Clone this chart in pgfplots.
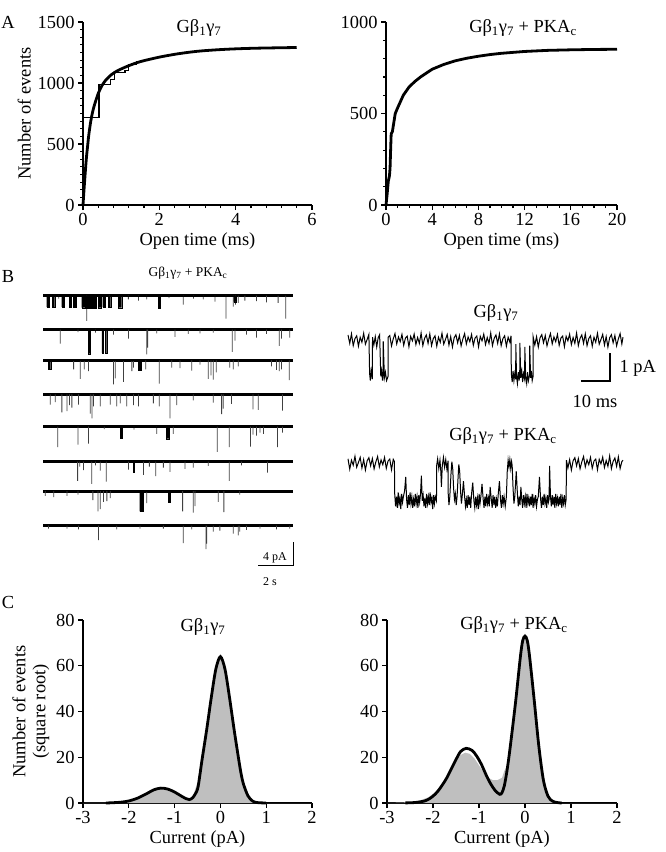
\documentclass[border=0pt]{standalone}
\usepackage{fontspec}
\setmainfont{Liberation Serif}
\usepackage{pgfplots}
\pgfplotsset{compat=1.18}

\newcommand{\gb}{Gβ\textsubscript{1}γ\textsubscript{7}}
\newcommand{\pka}{PKA\textsubscript{c}}
\newcommand{\bigf}{\fontsize{18.5}{20}\selectfont}

\pgfplotsset{
  panel/.style={scale only axis, anchor=south west, axis lines=left,
    axis line style={-, line width=1.6bp}, tick align=outside,
    major tick length=5bp, minor tick length=3bp,
    tick style={line width=1.2bp, black}, enlargelimits=false, clip=false,
    tick label style={font=\bigf}, label style={font=\bigf},
    /pgf/number format/assume math mode=true,
    /pgf/number format/1000 sep={}},
  trace/.style={scale only axis, anchor=south west, hide axis, width=250bp, height=42bp,
    xmin=0, xmax=14.29, ymin=-6, ymax=1, clip=false},
  single/.style={scale only axis, anchor=south west, hide axis, width=275bp, height=70bp,
    xmin=0, xmax=94.8, ymin=-2, ymax=0.5, clip=false},
  spk/.style={ybar, bar shift=0pt, bar width=0.8bp, fill=black!75, draw=none},
  burst/.style={fill=black, draw=black, line width=0.3bp},
  base/.style={line width=3bp},
}

\begin{document}
\begin{tikzpicture}
\path[use as bounding box] (0,0) rectangle (666bp,-852bp);

% ---------- A, left
\begin{axis}[panel, at={(83bp,-205bp)}, width=229bp, height=183bp,
  xmin=0, xmax=6, ymin=0, ymax=1500, xtick={0,2,4,6}, ytick={0,500,1000,1500},
  minor x tick num=4, minor y tick num=7,
  xlabel={Open time (ms)}, ylabel={Number of events}]
\addplot[line width=1.1bp] coordinates {
  (0,715)(0.42,715)(0.42,990)(0.72,990)(0.72,1030)(0.82,1030)(0.82,1085)
  (1.1,1085)(1.1,1100)(1.2,1100)(1.2,1155)(1.4,1155)(1.4,1175)(1.6,1175)(1.6,1195)(1.8,1195)};
\addplot[line width=2.8bp, smooth] coordinates {
  (0,0)(0.03,140)(0.06,270)(0.09,390)(0.12,480)(0.15,570)(0.2,680)(0.25,760)(0.3,820)
  (0.4,915)(0.5,980)(0.6,1025)(0.75,1070)(0.9,1100)(1.0,1115)(1.2,1142)(1.5,1175)
  (2.0,1212)(2.5,1240)(3.0,1260)(3.5,1272)(4.0,1280)(4.5,1285)(5.0,1288)(5.6,1291)};
\end{axis}

% ---------- A, right
\begin{axis}[panel, at={(386bp,-205bp)}, width=231bp, height=183bp,
  xmin=0, xmax=20, ymin=0, ymax=1000, xtick={0,4,8,12,16,20}, ytick={0,500,1000},
  minor x tick num=3, minor y tick num=4,
  xlabel={Open time (ms)}]
\addplot[line width=2.8bp] coordinates {
  (0,0)(0.1,60)(0.2,130)(0.3,160)(0.35,200)(0.4,300)(0.45,390)(0.55,400)(0.7,460)
  (0.8,500)(1.0,530)(1.25,565)(1.5,600)(2,645)(2.5,675)(3,700)(4,742)(5,768)(6,788)
  (7,802)(8,813)(9,822)(10,829)(12,839)(14,845)(16,848)(18,850)(20,851)};
\end{axis}

% ---------- B, left: eight rows
\begin{axis}[trace, at={(43bp,-331.7bp)}]
\addplot[base] coordinates {(0,0)(14.29,0)};
\addplot[spk] coordinates {(0.9,-0.5)(2.5,-4.2)(3.8,-0.4)(4.88,-0.6)(5.46,-0.8)(5.93,-0.6)(7.2,-0.4)
  (8.02,-1.5)(8.6,-0.5)(9.16,-0.6)(9.83,-1.0)(10.46,-3.8)(10.87,-1.8)(11.0,-1.5)(11.16,-1.2)
  (11.54,-0.8)(12.2,-0.9)(12.78,-1.1)(13.44,-1.2)(13.88,-3.8)};
\addplot[burst] coordinates {(0.21,0)(0.21,-1.9)(0.36,-1.9)(0.36,0)(0.55,0)(0.55,-1.9)(0.67,-1.9)(0.67,0)
  (1.07,0)(1.07,-1.9)(1.2,-1.9)(1.2,0)(1.5,0)(1.5,-1.9)(1.62,-1.9)(1.62,0)
  (1.73,0)(1.73,-1.9)(1.89,-1.9)(1.89,0)(2.21,0)(2.21,-2.0)(2.4,-2.0)(2.4,0)
  (2.46,0)(2.46,-2.1)(2.69,-2.1)(2.69,0)(2.78,0)(2.78,-2.1)(3.03,-2.1)(3.03,0)
  (3.16,0)(3.16,-2.0)(3.31,-2.0)(3.31,0)(3.41,0)(3.41,-1.9)(3.54,-1.9)(3.54,0)
  (3.73,0)(3.73,-1.9)(3.87,-1.9)(3.87,0)(4.3,0)(4.3,-2.0)(4.5,-2.0)(4.5,0)
  (6.59,0)(6.59,-2.1)(6.72,-2.1)(6.72,0)(10.9,0)(10.9,-1.0)(11.05,-1.0)(11.05,0)};
\end{axis}

\begin{axis}[trace, at={(43bp,-365.7bp)}]
\addplot[base] coordinates {(0,0)(14.29,0)};
\addplot[spk] coordinates {(0.99,-2.3)(2.0,-0.4)(3.0,-0.5)(4.03,-0.8)(4.89,-1.5)(5.93,-4.1)(5.98,-3.0)
  (6.5,-0.6)(7.55,-1.2)(8.3,-0.7)(8.97,-0.6)(9.73,-0.5)(10.82,-3.7)(10.97,-1.8)(11.63,-0.8)
  (12.2,-1.3)(12.78,-0.7)(13.5,-2.7)(13.63,-1.5)(14.1,-1.3)};
\addplot[burst] coordinates {(2.6,0)(2.6,-4.0)(2.68,-4.0)(2.68,0)(3.37,0)(3.37,-3.9)(3.46,-3.9)(3.46,0)
  (3.55,0)(3.55,-3.9)(3.64,-3.9)(3.64,0)};
\end{axis}

\begin{axis}[trace, at={(43bp,-396.3bp)}]
\addplot[base] coordinates {(0,0)(14.29,0)};
\addplot[spk] coordinates {(1.75,-1.5)(2.13,-3.1)(2.36,-1.5)(2.6,-1.8)(4.03,-4.0)(4.13,-3.0)(4.6,-3.6)
  (5.08,-1.8)(5.17,-1.2)(5.87,-1.5)(6.65,-3.9)(7.36,-1.2)(7.83,-1.3)(8.5,-1.7)(8.97,-0.7)
  (9.45,-3.1)(9.6,-2.5)(9.73,-3.2)(9.9,-2.0)(10.68,-1.2)(10.87,-1.5)(11.16,-1.0)(13.06,-1.0)
  (13.35,-1.6)(13.5,-1.8)(13.63,-1.5)(14.07,-3.3)};
\addplot[burst] coordinates {(0.29,0)(0.29,-1.5)(0.44,-1.5)(0.44,0)(5.46,0)(5.46,-1.7)(5.6,-1.7)(5.6,0)};
\end{axis}

\begin{axis}[trace, at={(43bp,-430.3bp)}]
\addplot[base] coordinates {(0,0)(14.29,0)};
\addplot[spk] coordinates {(0.42,-1.7)(0.7,-1.3)(1.08,-3.0)(1.37,-2.8)(1.52,-1.8)(1.65,-2.2)(2.03,-1.7)
  (2.7,-3.2)(2.8,-4.0)(2.89,-2.0)(3.27,-2.0)(3.84,-1.7)(4.22,-2.0)(4.41,-1.5)(4.79,-2.0)
  (5.17,-1.8)(5.46,-2.0)(6.31,-1.5)(6.65,-2.0)(7.26,-4.0)(7.64,-1.8)(8.59,-1.0)(9.73,-1.4)
  (10.21,-3.3)(10.3,-2.4)(10.78,-1.6)(12.0,-2.5)(12.3,-2.6)(13.69,-2.7)};
\end{axis}

\begin{axis}[trace, at={(43bp,-462.7bp)}]
\addplot[base] coordinates {(0,0)(14.29,0)};
\addplot[spk] coordinates {(0.84,-3.4)(2.0,-3.0)(2.6,-2.8)(3.5,-0.4)(5.2,-0.5)(6.5,-1.2)(7.45,-1.2)
  (9.96,-4.2)(10.65,-3.4)(11.86,-3.3)(12.0,-1.3)(12.2,-1.5)(12.4,-1.0)(12.6,-1.2)(13.4,-3.4)(13.69,-1.0)};
\addplot[burst] coordinates {(4.41,0)(4.41,-1.9)(4.54,-1.9)(4.54,0)(7.05,0)(7.05,-2.0)(7.2,-2.0)(7.2,0)};
\end{axis}

\begin{axis}[trace, at={(43bp,-497.7bp)}]
\addplot[base] coordinates {(0,0)(14.29,0)};
\addplot[spk] coordinates {(1.98,-3.2)(2.1,-0.8)(2.32,-1.4)(2.79,-3.7)(3.0,-0.6)(3.27,-1.5)(3.61,-3.3)
  (4.89,-1.3)(5.74,-2.2)(6.08,-0.8)(6.44,-2.4)(6.88,-1.0)(7.26,-1.7)(8.12,-1.2)(8.59,-1.0)
  (9.45,-0.7)(10.65,-3.2)(11.35,-0.6)(12.83,-1.8)};
\addplot[burst] coordinates {(5.13,0)(5.13,-1.8)(5.21,-1.8)(5.21,0)};
\end{axis}

\begin{axis}[trace, at={(43bp,-527bp)}]
\addplot[base] coordinates {(0,0)(14.29,0)};
\addplot[spk] coordinates {(0.13,-0.8)(0.61,-1.0)(1.37,-0.8)(2.0,-0.6)(2.85,-1.5)(3.14,-3.4)(3.27,-3.0)
  (3.46,-1.8)(3.65,-1.7)(3.84,-1.2)(5.93,-2.0)(7.98,-3.4)(8.59,-3.6)(8.69,-2.5)(10.02,-1.8)
  (10.34,-3.5)(11.25,-0.6)};
\addplot[burst] coordinates {(5.53,0)(5.53,-3.4)(5.72,-3.4)(5.72,0)(7.15,0)(7.15,-1.8)(7.28,-1.8)(7.28,0)};
\end{axis}

\begin{axis}[trace, at={(43bp,-561.7bp)}]
\addplot[base] coordinates {(0,0)(14.29,0)};
\addplot[spk] coordinates {(0.32,-0.5)(1.37,-0.5)(2.03,-0.6)(3.17,-2.4)(4.22,-0.6)(5.55,-0.5)(6.88,-0.5)
  (8.02,-2.9)(8.5,-0.6)(9.32,-3.9)(9.36,-3.0)(9.73,-1.0)(10.11,-0.8)(10.87,-1.3)(11.16,-1.6)
  (11.25,-1.0)(11.63,-0.7)(12.4,-0.5)(13.35,-0.6)(14.1,-0.5)};
% scale bar: 2 s, 4 pA
\addplot[line width=1bp] coordinates {(12.29,-6.7)(14.29,-6.7)(14.29,-2.7)};
\end{axis}

% ---------- B, right: two expanded sweeps
\begin{axis}[single, at={(348bp,-396bp)}]
\addplot[line width=1bp] coordinates {
(0,0.18)(0.6,-0.12)(1.2,0.22)(1.8,-0.2)(2.4,0.05)(3,0.15)(3.6,-0.22)(4.2,0.1)(4.8,-0.08)(5.4,0.24)
(6,-0.15)(6.6,0.02)(7.2,0.2)
(7.45,-1.2)(7.7,-1.45)(8.0,-1.1)(8.4,-1.4)(8.45,0.1)(8.9,-0.18)(9.4,0.12)(9.9,-0.25)(10.4,0.08)(10.9,0.19)
(11.3,-1.3)(11.6,-1.1)(11.9,-1.45)(12.1,-1.25)(12.15,-0.05)(12.55,-1.35)(12.9,-1.15)(13.3,-1.45)
(13.8,-1.3)(13.85,0.1)
(14.4,0.16)(15,-0.21)(15.6,0.04)(16.2,0.23)(16.8,-0.14)(17.4,0.11)(18,-0.06)(18.6,0.2)(19.2,-0.19)
(19.8,0.07)(20.4,0.14)(21,-0.24)(21.6,0.13)(22.2,-0.03)(22.8,0.21)(23.4,-0.16)(24,0.09)(24.6,-0.12)
(25.2,0.25)(25.8,-0.2)(26.4,0.06)(27,0.18)(27.6,-0.12)(28.2,0.22)(28.8,-0.2)(29.4,0.05)(30,0.15)
(30.6,-0.22)(31.2,0.1)(31.8,-0.08)(32.4,0.24)(33,-0.15)(33.6,0.02)(34.2,0.2)(34.8,-0.18)(35.4,0.12)
(36,-0.25)(36.6,0.08)(37.2,0.19)(37.8,-0.1)(38.4,0.16)(39,-0.21)(39.6,0.04)(40.2,0.23)(40.8,-0.14)
(41.4,0.11)(42,-0.06)(42.6,0.2)(43.2,-0.19)(43.8,0.07)(44.4,0.14)(45,-0.24)(45.6,0.13)(46.2,-0.03)
(46.8,0.21)(47.4,-0.16)(48,0.09)(48.6,-0.12)(49.2,0.25)(49.8,-0.2)(50.4,0.06)(51,0.18)(51.6,-0.12)
(52.2,0.22)(52.8,-0.2)(53.4,0.05)(54,0.15)(54.6,-0.22)(55.2,0.1)(55.8,-0.08)(56.2,0.15)
(56.3,-1.2)(56.6,-1.5)(56.9,-1.1)(57.2,-1.45)(57.5,-1.2)(57.8,-1.4)(57.85,-0.15)(58.1,-1.3)(58.4,-1.55)
(58.7,-1.15)(59.0,-1.45)(59.2,-1.2)(59.25,-0.1)(59.55,-1.35)(59.9,-1.1)(60.2,-1.5)(60.5,-1.2)(60.9,-1.4)
(60.95,-0.25)(61.25,-1.3)(61.6,-1.55)(61.9,-1.15)(62.2,-1.45)(62.6,-1.25)(62.65,-0.2)(62.95,-1.35)
(63.2,-1.1)(63.5,-1.45)(63.8,-1.3)(63.85,0.1)
(64.4,-0.18)(65,0.12)(65.6,-0.25)(66.2,0.08)(66.8,0.19)(67.4,-0.1)(68,0.16)(68.6,-0.21)(69.2,0.04)
(69.8,0.23)(70.4,-0.14)(71,0.11)(71.6,-0.06)(72.2,0.2)(72.8,-0.19)(73.4,0.07)(74,0.14)(74.6,-0.24)
(75.2,0.13)(75.8,-0.03)(76.4,0.21)(77,-0.16)(77.6,0.09)(78.2,-0.12)(78.8,0.25)(79.4,-0.2)(80,0.06)
(80.6,0.18)(81.2,-0.12)(81.8,0.22)(82.4,-0.2)(83,0.05)(83.6,0.15)(84.2,-0.22)(84.8,0.1)(85.4,-0.08)
(86,0.24)(86.6,-0.15)(87.2,0.02)(87.8,0.2)(88.4,-0.18)(89,0.12)(89.6,-0.25)(90.2,0.08)(90.8,0.19)
(91.4,-0.1)(92,0.16)(92.6,-0.21)(93.2,0.04)(93.8,0.23)(94.4,-0.14)(94.8,0.1)};
% scale bar: 10 ms, 1 pA
\addplot[line width=2.5bp] coordinates {(80.3,-1.46)(90.3,-1.46)(90.3,-0.46)};
\end{axis}

\begin{axis}[single, at={(348bp,-519bp)}]
\addplot[line width=1bp] coordinates {
(0,0.15)(0.6,-0.22)(1.2,0.1)(1.8,-0.08)(2.4,0.24)(3,-0.15)(3.6,0.02)(4.2,0.2)(4.8,-0.18)(5.4,0.12)
(6,-0.25)(6.6,0.08)(7.2,0.19)(7.8,-0.1)(8.4,0.16)(9,-0.21)(9.6,0.04)(10.2,0.23)(10.8,-0.14)(11.4,0.11)
(12,-0.06)(12.6,0.2)(13.2,-0.19)(13.8,0.07)(14.4,0.14)(15,-0.24)(15.6,0.13)(16,0.05)
(16.1,-1.1)(16.4,-1.55)(16.7,-1.2)(17,-1.6)(17.3,-1.05)(17.6,-1.45)(17.9,-1.25)(18.2,-1.65)(18.5,-1.1)
(18.8,-1.4)(19.1,-1.2)(19.5,-1.0)(19.9,-0.5)(20.2,-1.3)(20.5,-1.6)(20.8,-1.15)(21.1,-1.5)(21.4,-1.05)
(21.7,-1.45)(22,-1.2)(22.3,-1.6)(22.6,-1.3)(22.9,-1.55)(23.2,-1.1)(23.5,-1.45)(23.8,-1.2)(24.1,-1.6)
(24.4,-1.15)(24.7,-1.4)(25,-1.1)(25.3,-0.45)(25.6,-1.35)(25.9,-1.15)(26.2,-1.55)(26.5,-1.25)(26.8,-1.6)
(27.1,-1.1)(27.4,-1.45)(27.7,-1.2)(28,-1.5)(28.3,-1.05)(28.6,-1.4)(28.9,-1.25)(29.2,-1.65)(29.5,-1.15)
(29.8,-1.45)(30.1,-1.2)(30.5,-1.35)
(30.55,-0.1)(30.9,0.15)(31.3,-0.2)(31.7,0.1)(32.0,-0.3)(32.2,-0.85)(32.5,-0.1)(32.9,0.2)(33.3,-0.15)
(33.7,0.12)(34.1,-0.22)(34.5,0.08)
(34.55,-1.1)(34.8,-1.5)(35.1,-1.2)(35.5,-0.4)(35.8,0.05)(36.1,-0.2)(36.4,-0.9)(36.7,-1.3)(37,-1.1)
(37.3,-1.5)(37.6,-1.2)(37.9,-0.6)(38.2,-0.05)(38.5,-0.3)(38.8,-1.0)(39.1,-1.45)(39.4,-1.15)(39.8,-0.65)
(40.2,-1.2)(40.5,-1.55)
(40.8,-1.3)(41.1,-1.6)(41.4,-1.15)(41.7,-1.5)(42,-1.2)(42.3,-1.6)(42.6,-1.1)(43,-0.7)(43.4,-1.35)
(43.7,-1.6)(44,-1.2)(44.3,-1.5)(44.6,-1.25)(44.9,-1.65)(45.2,-1.1)(45.5,-1.45)(45.8,-1.2)(46.2,-0.75)
(46.6,-1.3)(46.9,-1.6)(47.2,-1.2)(47.5,-1.55)(47.8,-1.1)(48.1,-1.45)(48.4,-1.25)(48.7,-1.55)(49,-0.85)
(49.4,-1.3)(49.7,-1.6)(50,-1.15)(50.3,-1.5)(50.6,-1.2)(50.9,-1.6)(51.2,-1.3)(51.5,-1.55)(51.8,-1.1)
(52.2,-0.65)(52.6,-1.35)(52.9,-1.6)(53.2,-1.15)(53.5,-1.45)(53.8,-1.2)(54.2,-1.55)(54.6,-1.2)
(54.9,-0.3)(55.2,0.1)(55.5,-0.15)(55.8,0.12)(56.1,-0.2)(56.4,0.05)(56.6,-0.1)(56.9,-0.9)(57.2,-1.45)
(57.5,-1.2)(58,-0.3)(58.4,-1.1)(58.7,-1.55)(59,-1.2)(59.3,-1.5)(59.6,-0.85)(59.9,-1.3)(60.2,-1.6)
(60.5,-1.15)(60.8,-1.45)(61.1,-1.2)(61.4,-1.6)(61.7,-1.1)(62,-1.45)(62.3,-1.25)(62.6,-1.55)
(62.9,-1.2)(63.2,-1.5)(63.5,-1.1)(63.8,-1.6)(64.1,-1.25)(64.4,-1.45)(64.7,-1.15)(65,-1.55)(65.3,-1.3)
(65.6,-1.2)(66,-0.5)(66.4,-1.3)(66.7,-1.6)(67,-1.2)(67.3,-1.5)(67.6,-1.1)(67.9,-1.45)(68.2,-1.25)
(68.5,-1.6)(68.8,-1.15)(69.1,-1.4)(69.3,-1.3)(69.5,-0.1)(69.8,-1.2)(70.1,-1.55)(70.4,-1.15)(70.7,-1.5)
(71,-1.2)(71.3,-1.6)(71.6,-1.1)(71.9,-1.45)(72.2,-1.25)(72.5,-1.55)(72.8,-1.2)(73.1,-1.5)(73.4,-1.1)
(73.7,-1.6)(74,-1.25)(74.3,-1.45)(74.6,-1.15)(74.9,-1.5)(75.2,-1.3)
(75.3,0.1)(75.8,-0.18)(76.4,0.12)(77,-0.25)(77.6,0.08)(78.2,0.19)(78.8,-0.1)(79.4,0.16)(80,-0.21)
(80.6,0.04)(81.2,0.23)(81.8,-0.14)(82.4,0.11)(83,-0.06)(83.6,0.2)(84.2,-0.19)(84.8,0.07)(85.4,0.14)
(86,-0.24)(86.6,0.13)(87.2,-0.03)(87.8,0.21)(88.4,-0.16)(89,0.09)(89.6,-0.12)(90.2,0.25)(90.8,-0.2)
(91.4,0.06)(92,0.18)(92.6,-0.12)(93.2,0.22)(93.8,-0.2)(94.4,0.05)(94.8,0.1)};
\end{axis}

% ---------- C, left
\begin{axis}[panel, at={(83bp,-803bp)}, width=229bp, height=183bp,
  xmin=-3, xmax=2, ymin=0, ymax=80, xtick={-3,...,2}, ytick={0,20,40,60,80},
  xlabel={Current (pA)}, ylabel={Number of events\\(square root)}, ylabel style={align=center}]
\addplot[draw=none, fill=gray!50] coordinates {
  (-3,0)(-2.4,0.1)(-2.2,0.4)(-2.0,1.0)(-1.8,2.5)(-1.6,4.6)(-1.45,6.2)(-1.3,7.0)(-1.15,6.5)(-1.0,5.0)
  (-0.85,3.2)(-0.75,2.2)(-0.68,2.0)(-0.6,3)(-0.5,9)(-0.45,14)(-0.4,20)(-0.3,33)(-0.2,47)(-0.1,59)
  (0,64)(0.1,59)(0.2,47)(0.3,33)(0.4,20)(0.45,14)(0.5,9)(0.6,3.5)(0.7,1)(0.8,0.2)(1,0)(2,0)} \closedcycle;
\addplot[line width=2.8bp, smooth] coordinates {
  (-2.5,0)(-2.2,0.3)(-2.0,0.9)(-1.8,2.2)(-1.6,4.2)(-1.45,5.8)(-1.3,6.5)(-1.15,6.1)(-1.0,4.8)
  (-0.85,3.0)(-0.75,1.9)(-0.68,1.5)(-0.6,2.4)(-0.5,6)(-0.45,12)(-0.4,19)(-0.3,32)(-0.2,46)
  (-0.1,58.5)(0,64)(0.1,58.5)(0.2,46)(0.3,32)(0.4,19)(0.45,13)(0.5,8.5)(0.6,3.2)(0.7,0.9)(0.8,0.2)(1.0,0)};
\end{axis}

% ---------- C, right
\begin{axis}[panel, at={(387bp,-803bp)}, width=230bp, height=183bp,
  xmin=-3, xmax=2, ymin=0, ymax=80, xtick={-3,...,2}, ytick={0,20,40,60,80},
  xlabel={Current (pA)}]
\addplot[draw=none, fill=gray!50] coordinates {
  (-3,0)(-2.5,0.3)(-2.3,1)(-2.1,2.5)(-2.0,4)(-1.9,6)(-1.8,8.5)(-1.7,11.5)(-1.6,15)(-1.5,18.5)
  (-1.4,21)(-1.3,22)(-1.2,21.5)(-1.1,19.5)(-1.0,16.5)(-0.9,13.5)(-0.8,11)(-0.7,10)(-0.6,10)
  (-0.5,11)(-0.45,14)(-0.4,16)(-0.35,20)(-0.3,28)(-0.2,45)(-0.1,64)(-0.05,71)(0,73)(0.05,71)
  (0.1,64)(0.2,45)(0.3,25)(0.4,10)(0.5,3)(0.6,0.8)(0.7,0.2)(0.8,0)(2,0)} \closedcycle;
\addplot[line width=2.8bp, smooth] coordinates {
  (-2.6,0.05)(-2.4,0.2)(-2.2,0.8)(-2.1,1.6)(-2.0,3)(-1.9,5)(-1.8,7.8)(-1.7,11)(-1.6,15)(-1.5,19)
  (-1.4,22.5)(-1.28,23.9)(-1.15,23)(-1.05,20.5)(-0.95,17)(-0.85,12.5)(-0.75,8.5)(-0.65,5.5)
  (-0.55,3.8)(-0.5,4.5)(-0.45,7.5)(-0.4,13)(-0.35,20)(-0.3,28)(-0.2,45)(-0.1,64)(-0.05,71)(0,73)
  (0.05,71)(0.1,64)(0.2,45)(0.3,25)(0.4,10)(0.5,3)(0.6,0.8)(0.7,0.2)(0.8,0)};
\end{axis}

% ---------- titles and panel letters
\node[font=\bigf] at (8bp,-22bp) {A};
\node[font=\bigf] at (8bp,-276bp) {B};
\node[font=\bigf] at (8bp,-602bp) {C};
\node[font=\bigf] at (199bp,-28bp) {\gb};
\node[font=\bigf] at (523bp,-28bp) {\gb{} + \pka};
\node[font=\fontsize{13.5}{15}\selectfont] at (188bp,-273bp) {\gb{} + \pka};
\node[font=\bigf] at (496bp,-313bp) {\gb};
\node[font=\bigf] at (503bp,-436bp) {\gb{} + \pka};
\node[font=\bigf] at (203bp,-627bp) {\gb};
\node[font=\bigf] at (514bp,-625bp) {\gb{} + \pka};
\node[font=\bigf, anchor=west] at (616bp,-368bp) {1 pA};
\node[font=\bigf] at (595bp,-401bp) {10 ms};
\node[font=\fontsize{12}{13}\selectfont] at (275bp,-558bp) {4 pA};
\node[font=\fontsize{12}{13}\selectfont] at (270bp,-582bp) {2 s};
\end{tikzpicture}
\end{document}
